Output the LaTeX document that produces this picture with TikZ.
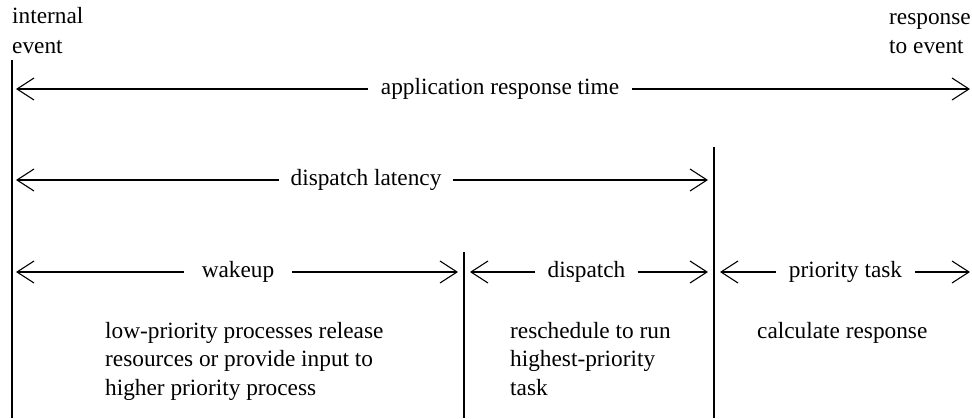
\documentclass[tikz,border=0pt]{standalone}
\usepackage{fontspec}
\setmainfont{Liberation Serif}
\usetikzlibrary{arrows.meta}
\begin{document}
\begin{tikzpicture}[x=1pt,y=-1pt,
  every node/.style={font=\fontsize{23.3}{28.7}\selectfont, inner sep=0pt},
  rule/.style={line width=1.7pt},
  span/.style={line width=1.6pt, -{Straight Barb[length=17pt,width=22pt,line width=1.1pt]}},
  lbl/.style={anchor=base, inner xsep=13pt},
  note/.style={anchor=base west}
]
\useasboundingbox (0,0) rectangle (972,418);

% event labels at both ends of the time line
\node[note] (ie1) at (12,23.5) {internal};
\node[note] (ie2) at (12,53) {event};
\node[note] (re1) at (889,24) {response};
\node[note] (re2) at (889,53) {to event};

% vertical markers
\coordinate (Ltop) at (12,60);   \coordinate (Lbot) at (12,418);
\coordinate (Atop) at (464,252); \coordinate (Abot) at (464,418);
\coordinate (Btop) at (714,147); \coordinate (Bbot) at (714,418);
\draw[rule] (Ltop) -- (Lbot);
\draw[rule] (Atop) -- (Abot);
\draw[rule] (Btop) -- (Bbot);

% application response time
\coordinate (r1L) at (16,89);
\coordinate (r1R) at (970,89);
\node[lbl] (art) at (500,94.5) {application response time};
\draw[span] (art.west |- r1L) -- (r1L);
\draw[span] (art.east |- r1R) -- (r1R);

% dispatch latency
\coordinate (r2L) at (16,180);
\coordinate (r2R) at (708,180);
\node[lbl, inner xsep=11pt] (dl) at (366,185.5) {dispatch latency};
\draw[span] (dl.west |- r2L) -- (r2L);
\draw[span] (dl.east |- r2R) -- (r2R);

% phases
\coordinate (r3a) at (16,272);
\coordinate (r3b) at (458,272);
\coordinate (r3c) at (470,272);
\coordinate (r3d) at (708,272);
\coordinate (r3e) at (720,272);
\coordinate (r3f) at (970,272);
\node[lbl, inner xsep=18pt] (wk) at (238,277.5) {wakeup};
\node[lbl, inner xsep=12pt] (dp) at (586.5,277.5) {dispatch};
\node[lbl, inner xsep=13pt] (pt) at (845.5,277.5) {priority task};
\draw[span] (wk.west |- r3a) -- (r3a);
\draw[span] (wk.east |- r3b) -- (r3b);
\draw[span] (dp.west |- r3c) -- (r3c);
\draw[span] (dp.east |- r3d) -- (r3d);
\draw[span] (pt.west |- r3e) -- (r3e);
\draw[span] (pt.east |- r3f) -- (r3f);

% phase descriptions
\node[note] (w1) at (105,338) {low-priority processes release};
\node[note] (w2) at (105,366.7) {resources or provide input to};
\node[note] (w3) at (105,395.4) {higher priority process};
\node[note] (d1) at (510,338) {reschedule to run};
\node[note] (d2) at (510,366.7) {highest-priority};
\node[note] (d3) at (510,395.4) {task};
\node[note] (p1) at (757,338.5) {calculate response};
\end{tikzpicture}
\end{document}
